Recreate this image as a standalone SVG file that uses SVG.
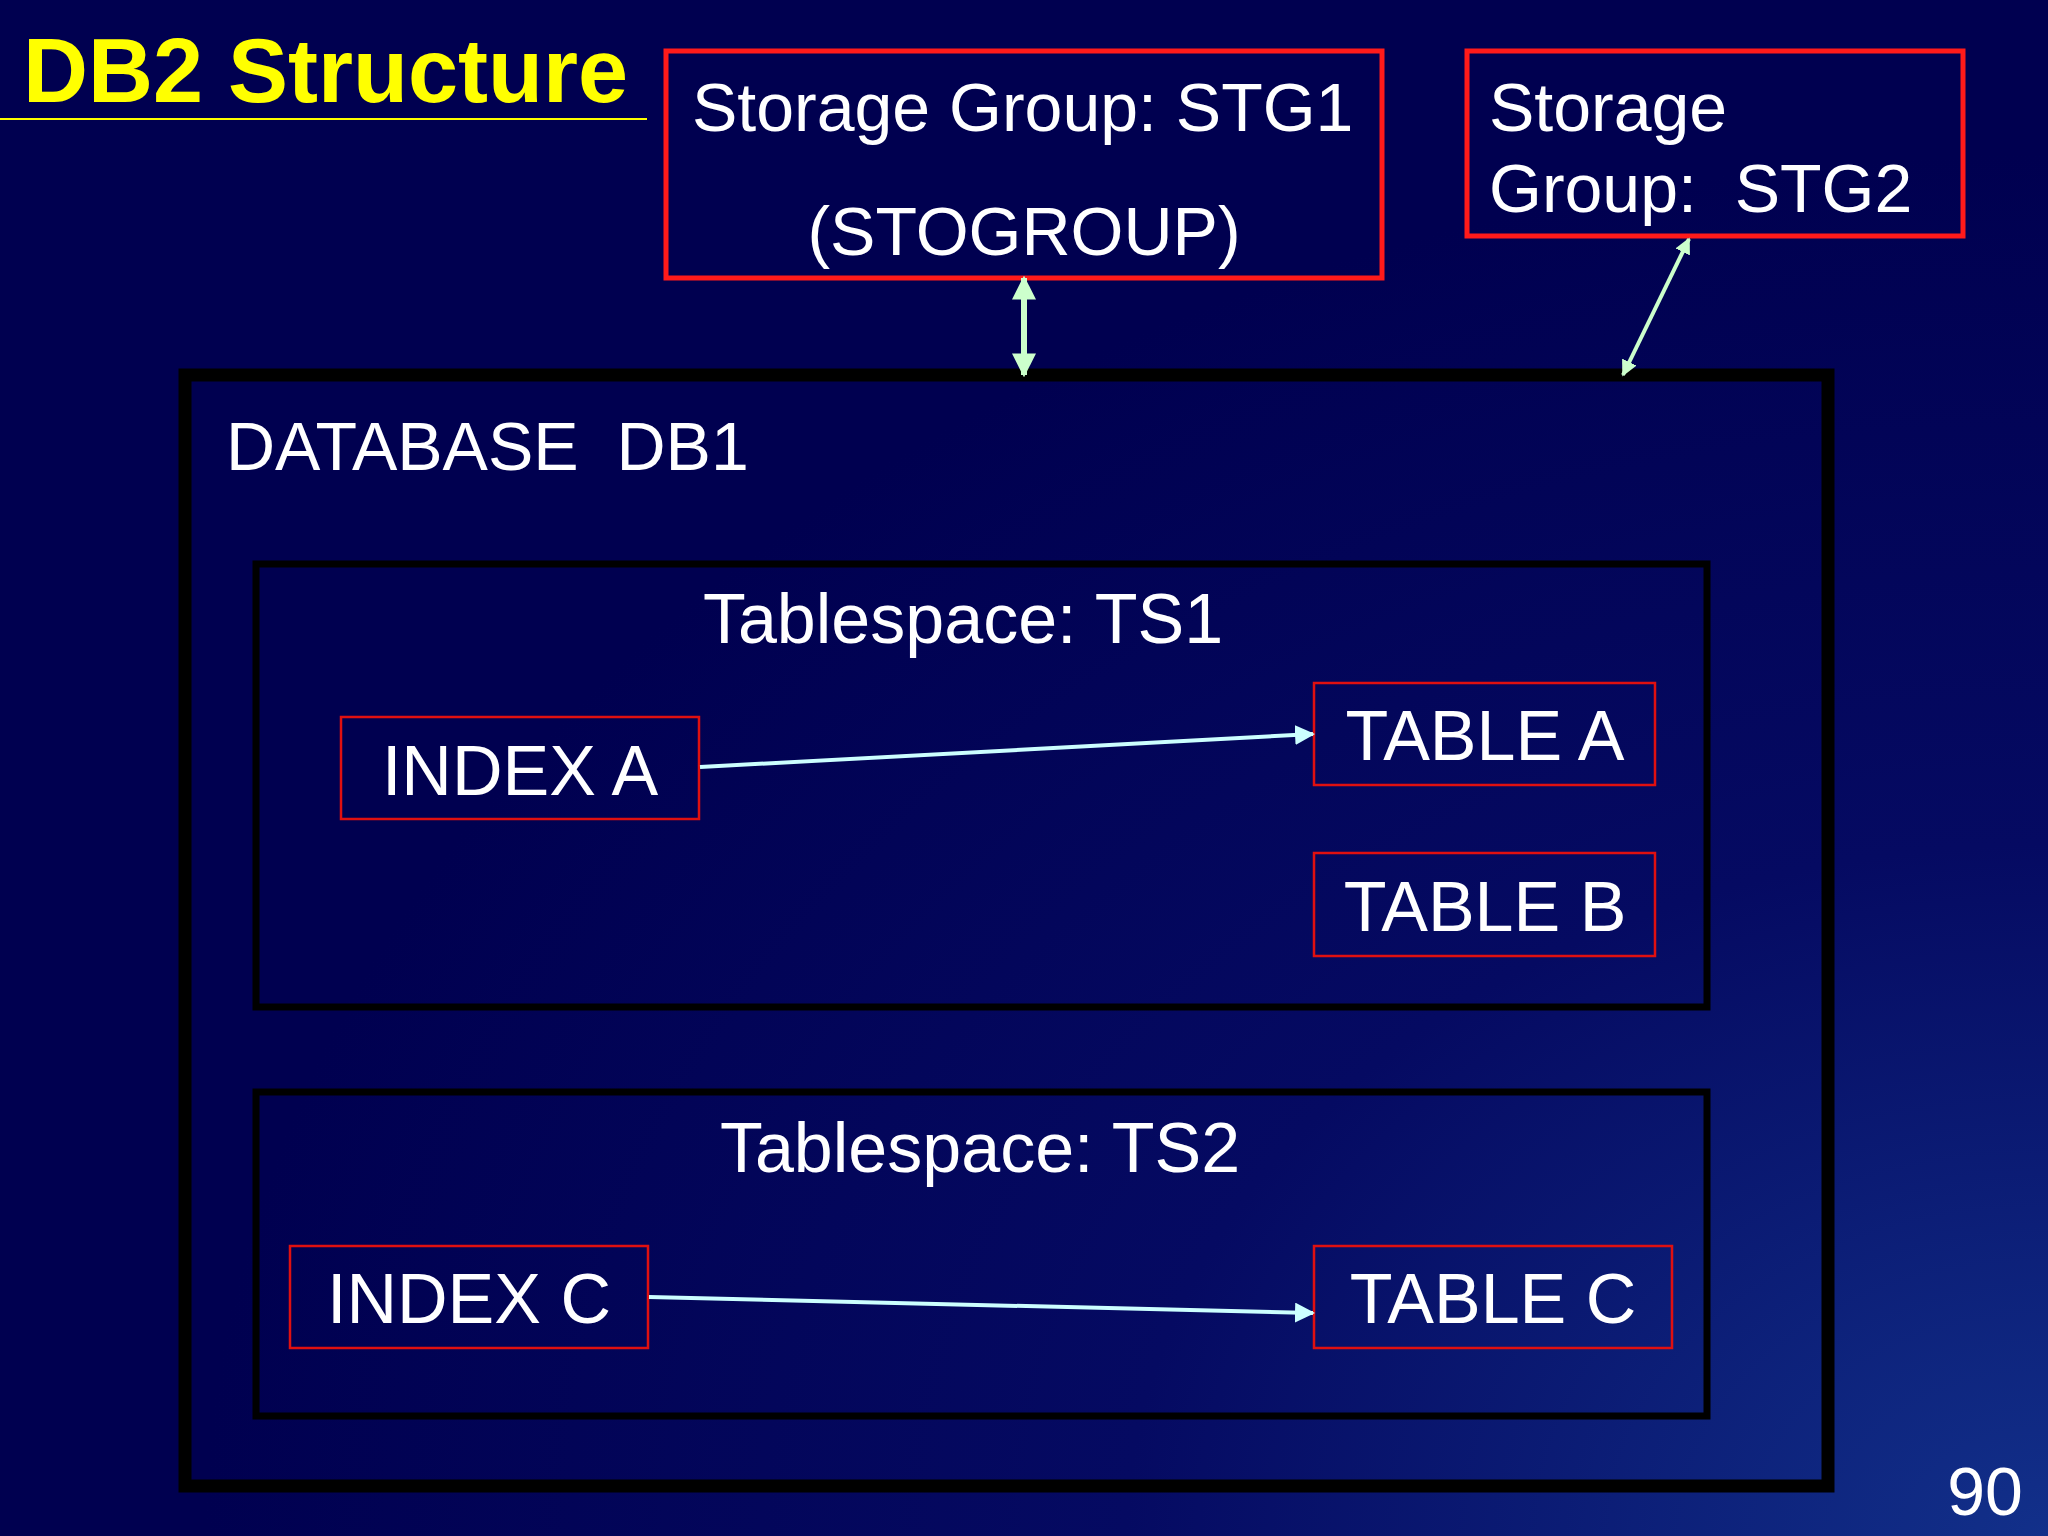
<svg xmlns="http://www.w3.org/2000/svg" width="2048" height="1536" viewBox="0 0 2048 1536">
<defs>
<radialGradient id="bg" cx="1" cy="1" r="0.9">
<stop offset="0" stop-color="#12308a"/>
<stop offset="0.5" stop-color="#050a62"/>
<stop offset="1" stop-color="#000050"/>
</radialGradient>
<marker id="ac" viewBox="0 0 10 10" refX="9" refY="5" markerWidth="5" markerHeight="5" orient="auto-start-reverse"><path d="M0,0L10,5L0,10z" fill="#CCFFFF"/></marker>
<marker id="ag" viewBox="0 0 10 10" refX="9" refY="5" markerWidth="4" markerHeight="4" orient="auto-start-reverse"><path d="M0,0L10,5L0,10z" fill="#CCFFCC"/></marker>
<style>
text{font-family:"Liberation Sans",Arial,sans-serif;fill:#fff}
.big{font-size:68px}
.lab{font-size:70px;text-anchor:middle}
.red{fill:none;stroke:#e01010;stroke-width:2.5}
.redt{fill:none;stroke:#ff1a1a;stroke-width:5}
.blk{fill:none;stroke:#000;stroke-width:7}
</style>
</defs>
<rect width="2048" height="1536" fill="url(#bg)"/>
<g id="title"><text x="23" y="102" style="font-size:90px;font-weight:bold;fill:#ffff00">DB2 Structure</text><line x1="0" y1="119" x2="647" y2="119" stroke="#ffff00" stroke-width="2"/></g>
<g id="stg1"><rect class="redt" x="666" y="51" width="716" height="227"/><text class="big" x="692" y="131">Storage Group: STG1</text><text class="big" x="1024" y="255" text-anchor="middle">(STOGROUP)</text></g>
<g id="stg2"><rect class="redt" x="1467" y="51" width="496" height="185"/><text class="big" x="1489" y="131">Storage</text><text class="big" x="1489" y="212" xml:space="preserve">Group:  STG2</text></g>
<g id="db1"><rect x="185" y="375" width="1643" height="1111" fill="none" stroke="#000" stroke-width="13"/><text class="big" x="226" y="470" xml:space="preserve">DATABASE  DB1</text></g>
<g id="ts1"><rect class="blk" x="256" y="564" width="1451" height="443"/><text class="lab" x="963" y="643">Tablespace: TS1</text></g>
<g id="indexA"><rect class="red" x="341" y="717" width="358" height="102"/><text class="lab" x="520" y="795">INDEX A</text></g>
<g id="tableA"><rect class="red" x="1314" y="683" width="341" height="102"/><text class="lab" x="1485" y="760">TABLE A</text></g>
<g id="tableB"><rect class="red" x="1314" y="853" width="341" height="103"/><text class="lab" x="1485" y="931">TABLE B</text></g>
<g id="ts2"><rect class="blk" x="256" y="1092" width="1451" height="324"/><text class="lab" x="980" y="1172">Tablespace: TS2</text></g>
<g id="indexC"><rect class="red" x="290" y="1246" width="358" height="102"/><text class="lab" x="469" y="1323">INDEX C</text></g>
<g id="tableC"><rect class="red" x="1314" y="1246" width="358" height="102"/><text class="lab" x="1493" y="1323">TABLE C</text></g>
<g id="connectors">
<line x1="700" y1="767" x2="1313" y2="734" stroke="#CCFFFF" stroke-width="4" marker-end="url(#ac)"/>
<line x1="649" y1="1297" x2="1313" y2="1313" stroke="#CCFFFF" stroke-width="4" marker-end="url(#ac)"/>
<line x1="1024" y1="278" x2="1024" y2="375" stroke="#CCFFCC" stroke-width="6" marker-start="url(#ag)" marker-end="url(#ag)"/>
<line x1="1689" y1="239" x2="1623" y2="375" stroke="#CCFFCC" stroke-width="4" marker-start="url(#ag)" marker-end="url(#ag)"/>
</g>
<text class="big" x="1985" y="1515" text-anchor="middle">90</text>
</svg>
